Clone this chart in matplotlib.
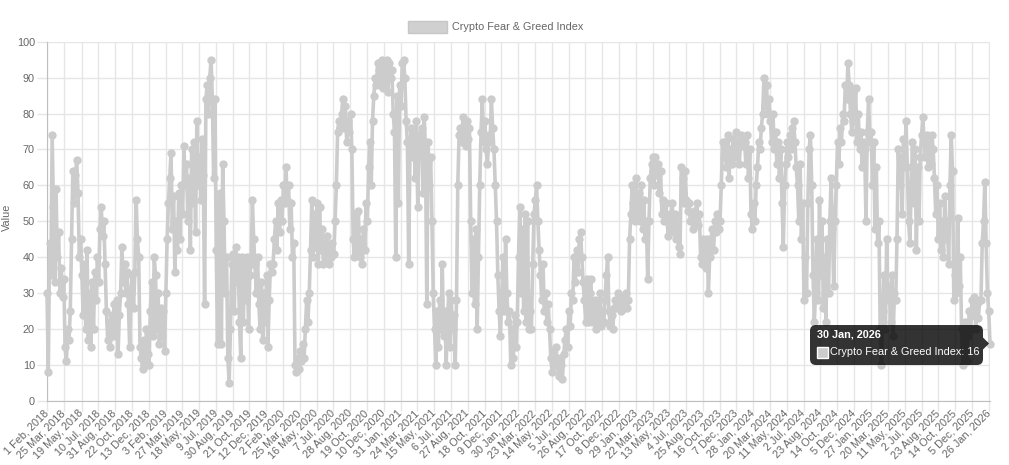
import numpy as np
import pandas as pd
import matplotlib
matplotlib.use('Agg')
import matplotlib.pyplot as plt
import matplotlib.dates as mdates
from matplotlib.patches import FancyBboxPatch, Rectangle, Polygon
from matplotlib.transforms import IdentityTransform

#%% data (one value every 4 days from 1 Feb 2018)
fg_2018 = [30, 8, 44, 35, 74, 54, 33, 59, 40, 47,
           30, 37, 29, 34, 15, 11, 20, 17, 25, 45,
           64, 55, 63, 67, 58, 40, 45, 35, 24, 38,
           20, 42, 17, 30, 15, 33, 20, 36, 28, 40,
           33, 48, 54, 46, 50, 38, 25, 17, 22, 15,
           24, 18, 27, 20, 28, 13, 24, 30, 43, 33,
           38, 30, 36, 27, 15, 30, 35, 26, 36, 56,
           45, 40, 15, 12, 9, 17, 11, 20, 13, 10,
           25, 33, 18, 40]
fg_2019 = [35, 20, 30, 16, 26, 18, 25, 14, 30, 45,
           55, 62, 69, 48, 57, 36, 50, 42, 58, 45,
           60, 52, 71, 60, 66, 50, 62, 42, 70, 55,
           72, 47, 78, 60, 68, 56, 73, 63, 27, 84,
           88, 80, 90, 95, 84, 62, 84, 42, 16, 55,
           58, 16, 66, 50, 30, 40, 12, 5, 20, 38,
           41, 25, 43, 33, 40, 22, 12, 40, 22, 38,
           28, 40, 20, 35, 38, 56, 45, 38, 30, 40,
           27, 20, 33, 17, 30, 22, 35, 15, 28, 38,
           36]
fg_2020 = [38, 45, 50, 42, 55, 47, 56, 50, 60, 55,
           65, 56, 60, 48, 55, 40, 44, 10, 8, 12,
           9, 14, 11, 16, 12, 20, 28, 22, 30, 42,
           56, 40, 52, 43, 55, 38, 54, 42, 48, 38,
           44, 40, 46, 38, 42, 40, 44, 41, 50, 60,
           75, 78, 76, 80, 84, 76, 82, 72, 78, 75,
           80, 70, 45, 40, 52, 42, 53, 40, 45, 38,
           48, 42, 55, 50, 65, 72, 60, 78, 85, 90,
           88, 94, 92, 88, 95, 87, 93, 89, 95, 86,
           94, 90]
fg_2021 = [92, 80, 75, 40, 85, 55, 88, 82, 94, 95,
           90, 78, 72, 38, 70, 76, 68, 75, 62, 78,
           54, 74, 70, 76, 58, 79, 70, 27, 72, 60,
           68, 50, 30, 20, 10, 25, 15, 28, 20, 38,
           18, 25, 10, 22, 30, 15, 28, 20, 24, 10,
           28, 60, 74, 76, 72, 79, 74, 71, 78, 73,
           76, 50, 30, 45, 27, 48, 20, 40, 60, 75,
           84, 72, 78, 70, 66, 74, 72, 84, 76, 70,
           60, 50, 35, 25, 18, 28, 40, 25, 45, 30,
           22]
fg_2022 = [25, 10, 20, 12, 24, 15, 22, 40, 54, 30,
           48, 25, 52, 22, 50, 20, 25, 20, 38, 52,
           56, 60, 50, 42, 35, 28, 38, 25, 30, 22,
           27, 20, 12, 8, 14, 10, 15, 11, 7, 12,
           10, 6, 13, 17, 20, 15, 25, 21, 30, 28,
           40, 33, 42, 36, 45, 47, 40, 33, 28, 22,
           34, 22, 30, 34, 22, 24, 28, 20, 26, 22,
           30, 21, 25, 22, 28, 35, 40, 25, 21, 24,
           20, 26, 28, 26, 30, 27, 25, 29, 27, 26,
           30]
fg_2023 = [26, 28, 45, 52, 60, 55, 50, 62, 52, 58,
           50, 60, 48, 56, 45, 50, 34, 50, 62, 66,
           68, 60, 68, 63, 66, 58, 64, 52, 56, 50,
           55, 50, 46, 52, 48, 55, 47, 52, 45, 50,
           43, 41, 65, 62, 55, 64, 56, 53, 55, 50,
           52, 48, 53, 50, 55, 49, 52, 40, 38, 45,
           42, 37, 45, 30, 40, 45, 48, 42, 50, 47,
           52, 48, 50, 60, 72, 68, 72, 65, 74, 62,
           70, 66, 73, 68, 75, 70, 72, 66, 74, 71,
           73]
fg_2024 = [72, 66, 74, 62, 70, 52, 48, 55, 50, 60,
           65, 72, 70, 76, 80, 90, 82, 88, 80, 84,
           78, 72, 80, 70, 75, 66, 72, 62, 70, 55,
           43, 60, 66, 72, 68, 74, 70, 76, 78, 72,
           65, 60, 50, 66, 45, 55, 28, 40, 30, 55,
           70, 74, 60, 35, 22, 30, 45, 28, 56, 35,
           50, 26, 40, 22, 45, 30, 50, 62, 48, 32,
           50, 60, 72, 66, 76, 72, 80, 78, 88, 84,
           94, 88, 80, 75, 86, 78, 87, 72, 80, 70,
           75, 65]
fg_2025 = [72, 70, 50, 75, 84, 72, 75, 60, 72, 48,
           65, 44, 50, 20, 10, 25, 35, 20, 45, 28,
           32, 22, 35, 18, 30, 28, 45, 70, 60, 68,
           52, 73, 65, 78, 65, 50, 44, 60, 72, 55,
           70, 42, 65, 50, 68, 74, 79, 72, 68, 74,
           65, 72, 66, 74, 70, 62, 52, 60, 45, 55,
           42, 50, 40, 57, 45, 50, 38, 60, 74, 64,
           28, 35, 30, 51, 32, 40, 20, 10, 15, 22,
           11, 18, 25, 20, 28, 24, 29, 20, 27, 23,
           28]
fg_2026 = [28, 44, 50, 61, 44, 30, 25, 16]

tick_labels = ['1 Feb, 2018', '25 Mar, 2018', '19 May, 2018', '10 Jul, 2018', '31 Aug, 2018',
               '22 Oct, 2018', '13 Dec, 2018', '3 Feb, 2019', '27 Mar, 2019', '18 May, 2019',
               '9 Jul, 2019', '30 Aug, 2019', '21 Oct, 2019', '12 Dec, 2019', '2 Feb, 2020',
               '25 Mar, 2020', '16 May, 2020', '7 Jul, 2020', '28 Aug, 2020', '19 Oct, 2020',
               '10 Dec, 2020', '31 Jan, 2021', '24 Mar, 2021', '15 May, 2021', '6 Jul, 2021',
               '27 Aug, 2021', '18 Oct, 2021', '9 Dec, 2021', '30 Jan, 2022', '23 Mar, 2022',
               '14 May, 2022', '5 Jul, 2022', '26 Aug, 2022', '17 Oct, 2022', '8 Dec, 2022',
               '29 Jan, 2023', '22 Mar, 2023', '13 May, 2023', '4 Jul, 2023', '25 Aug, 2023',
               '16 Oct, 2023', '7 Dec, 2023', '28 Jan, 2024', '20 Mar, 2024', '11 May, 2024',
               '2 Jul, 2024', '23 Aug, 2024', '14 Oct, 2024', '5 Dec, 2024', '27 Jan, 2025',
               '20 Mar, 2025', '11 May, 2025', '2 Jul, 2025', '23 Aug, 2025', '14 Oct, 2025',
               '5 Dec, 2025', '26 Jan, 2026']

series_name = 'Crypto Fear & Greed Index'

values = fg_2018 + fg_2019 + fg_2020 + fg_2021 + fg_2022 + fg_2023 + fg_2024 + fg_2025 + fg_2026
dates = pd.date_range('2018-02-01', periods=len(values), freq='4D')
tick_dates = pd.to_datetime(tick_labels, format='%d %b, %Y')

#%% plot
plt.rcParams['font.family'] = ['Liberation Sans', 'DejaVu Sans']
W, H = 1009, 465
fs = 7.8
fig = plt.figure(figsize=(W/100, H/100), dpi=100)
ax = fig.add_axes([47/W, 1-401/H, (990-47)/W, (401-41.7)/H])

gray = '#cccccc'
txt = '#666666'
ax.plot(dates, values, color=gray, lw=2.6, marker='o', ms=5, mfc=gray, mec=gray,
        zorder=3, clip_on=False)

ax.set_xlim(dates[0], dates[-1])
ax.set_ylim(0, 100)
ax.set_yticks(range(0, 101, 10))
ax.set_xticks(tick_dates)
ax.set_xticklabels(tick_labels, rotation=45, ha='right', va='center', rotation_mode='anchor')
ax.grid(True, color='#e6e6e6', lw=1)
ax.set_axisbelow(True)
for s in ['top', 'right']:
    ax.spines[s].set_visible(False)
for s in ['left', 'bottom']:
    ax.spines[s].set_color('#bfbfbf')
ax.tick_params(length=7.2, width=1, color='#e6e6e6', labelcolor=txt, labelsize=fs, pad=1.5)
ax.tick_params(axis='x', pad=0.5)

ID = IdentityTransform()

# y axis title
fig.text(7, H-217, 'Value', rotation=90, color=txt, fontsize=fs,
         ha='center', va='center', transform=ID)

# legend
fig.add_artist(Rectangle((408, H-33), 39, 12, fc='#d0d0d0', ec='#c6c6c6', lw=1, transform=ID))
fig.text(452, H-27, series_name, color=txt, fontsize=fs, va='center', transform=ID)

# tooltip on the last point
last = dates[-1]
px, py = ax.transData.transform((mdates.date2num(last), values[-1]))
dark = (0, 0, 0, 0.8)
fig.add_artist(FancyBboxPatch((px-180, py-21.5), 173, 40,
                              boxstyle='round,pad=0,rounding_size=6',
                              fc=dark, ec='none', transform=ID))
fig.add_artist(Polygon([[px-7, py+6], [px-1, py], [px-7, py-6]], closed=True,
                       fc=dark, ec='none', transform=ID))
fig.text(px-173, py+9, '%d %s, %d' % (last.day, last.strftime('%b'), last.year),
         color='white', fontsize=fs, fontweight='bold', va='center', transform=ID)
fig.add_artist(Rectangle((px-173, py-14), 11, 11, fc=gray, ec='white', lw=1, transform=ID))
fig.text(px-160, py-8.5, '%s: %d' % (series_name, values[-1]),
         color='white', fontsize=fs, va='center', transform=ID)

fig.savefig('out.png', dpi=100)
